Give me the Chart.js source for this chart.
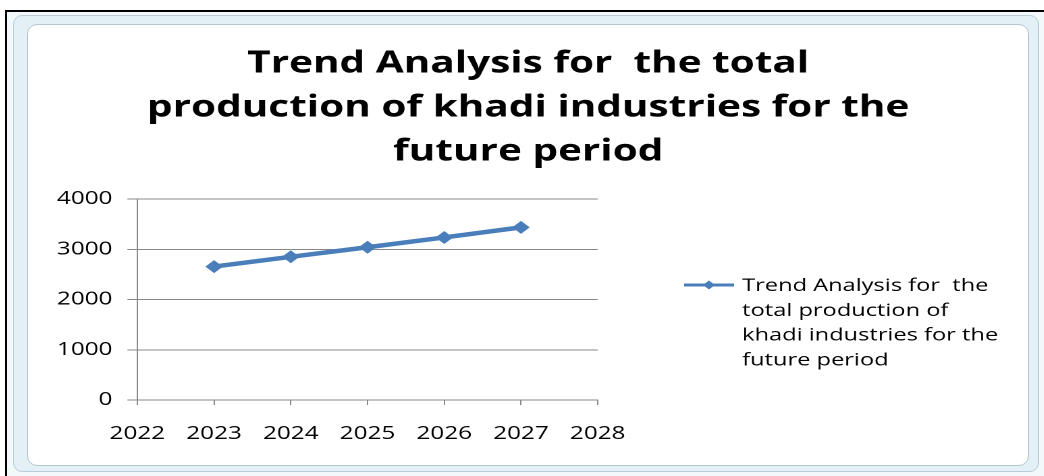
<!DOCTYPE html>
<html lang="en">
<head>
    <meta charset="UTF-8">
    <title>Trend Analysis</title>
    <script src="https://cdn.jsdelivr.net/npm/chart.js"></script>
    <style>
        html, body { margin: 0; padding: 0; background: #fff; width: 1044px; height: 476px; overflow: hidden; }
        .sheet { position: absolute; left: 5px; top: 10px; width: 1045px; height: 475px; border-left: 2px solid #000; border-top: 2px solid #000; background: #f3f9fb; }
        .frame { position: absolute; left: 13px; top: 15px; width: 1024px; height: 455px; border: 1px solid #b9cdd8; border-radius: 9px; background: #e3f0f5; }
        .plotbox { position: absolute; left: 27px; top: 24px; width: 1000px; height: 440px; border: 1px solid #b3c6d1; border-radius: 10px; background: #fff; overflow: hidden; }
        /* the picture is stretched sideways, so the canvas is too */
        .stretch { position: absolute; left: 0; top: 0; transform: scaleX(1.35); transform-origin: 0 0; }
    </style>
</head>
<body>
    <div class="sheet"></div>
    <div class="frame"></div>
    <div class="plotbox">
        <div class="stretch">
            <canvas id="myChart" width="741" height="440"></canvas>
        </div>
    </div>
    <script>
        // values
        const years = [2023, 2024, 2025, 2026, 2027];
        const production = [2655, 2850, 3040, 3235, 3435];
        const titleLines = ['Trend Analysis for  the total', 'production of khadi industries for the', 'future period'];
        const legendLines = ['Trend Analysis for  the', 'total production of', 'khadi industries for the', 'future period'];

        const blue = '#4a7ebb';
        const greyLine = '#888888';

        // legend on the right, wrapped over four lines like excel does
        const sideLegend = {
            id: 'sideLegend',
            afterDraw(chart) {
                const ctx = chart.ctx;
                const x0 = 486, y0 = 260, cx = 504.4;
                ctx.save();
                ctx.strokeStyle = blue;
                ctx.lineWidth = 3;
                ctx.beginPath();
                ctx.moveTo(x0, y0);
                ctx.lineTo(x0 + 37, y0);
                ctx.stroke();
                ctx.fillStyle = blue;
                ctx.beginPath();
                ctx.moveTo(cx, y0 - 4.5);
                ctx.lineTo(cx + 4.5, y0);
                ctx.lineTo(cx, y0 + 4.5);
                ctx.lineTo(cx - 4.5, y0);
                ctx.closePath();
                ctx.fill();
                ctx.fillStyle = '#000';
                ctx.font = '17.5px "Open Sans"';
                ctx.textBaseline = 'middle';
                legendLines.forEach((t, i) => ctx.fillText(t, 529, y0 + 1 + i * 24.8));
                ctx.restore();
            }
        };

        const ctx = document.getElementById('myChart').getContext('2d');
        const myChart = new Chart(ctx, {
            type: 'line',
            data: {
                datasets: [{
                    label: legendLines.join(' '),
                    data: years.map((y, i) => ({ x: y, y: production[i] })),
                    yAxisID: 'y',
                    borderColor: blue,
                    backgroundColor: blue,
                    borderWidth: 4.5,
                    pointStyle: 'rectRot',
                    pointRadius: 6.5,
                    pointBorderWidth: 0,
                    tension: 0
                }]
            },
            options: {
                responsive: false,
                animation: false,
                devicePixelRatio: 2,
                layout: { padding: 0 },
                plugins: {
                    legend: { display: false },
                    tooltip: { enabled: false },
                    title: {
                        display: true,
                        text: titleLines,
                        color: '#000',
                        font: { family: '"Open Sans"', size: 30, weight: 'bold', lineHeight: 44 / 30 },
                        padding: { top: 17, bottom: 25 }
                    }
                },
                scales: {
                    x: {
                        type: 'linear',
                        min: 2022,
                        max: 2028,
                        afterFit: s => { s.height = 65; },
                        ticks: {
                            stepSize: 1,
                            color: '#000',
                            padding: 18,
                            maxRotation: 0,
                            font: { family: '"Open Sans"', size: 18 },
                            callback: v => String(v)
                        },
                        grid: { drawOnChartArea: false, tickLength: 5, color: greyLine },
                        border: { color: greyLine, width: 1 }
                    },
                    y: {
                        min: 0,
                        max: 4000,
                        afterFit: s => { s.width = 81; },
                        ticks: {
                            stepSize: 1000,
                            color: '#000',
                            padding: 11,
                            font: { family: '"Open Sans"', size: 18 },
                            callback: v => String(v)
                        },
                        grid: { color: greyLine, tickLength: 7.4 },
                        border: { color: greyLine, width: 1 }
                    },
                    // empty axis that only keeps room for the legend
                    y2: {
                        type: 'linear',
                        position: 'right',
                        afterFit: s => { s.width = 319; },
                        ticks: { display: false },
                        grid: { display: false },
                        border: { display: false }
                    }
                }
            },
            plugins: [sideLegend]
        });
    </script>
</body>
</html>
